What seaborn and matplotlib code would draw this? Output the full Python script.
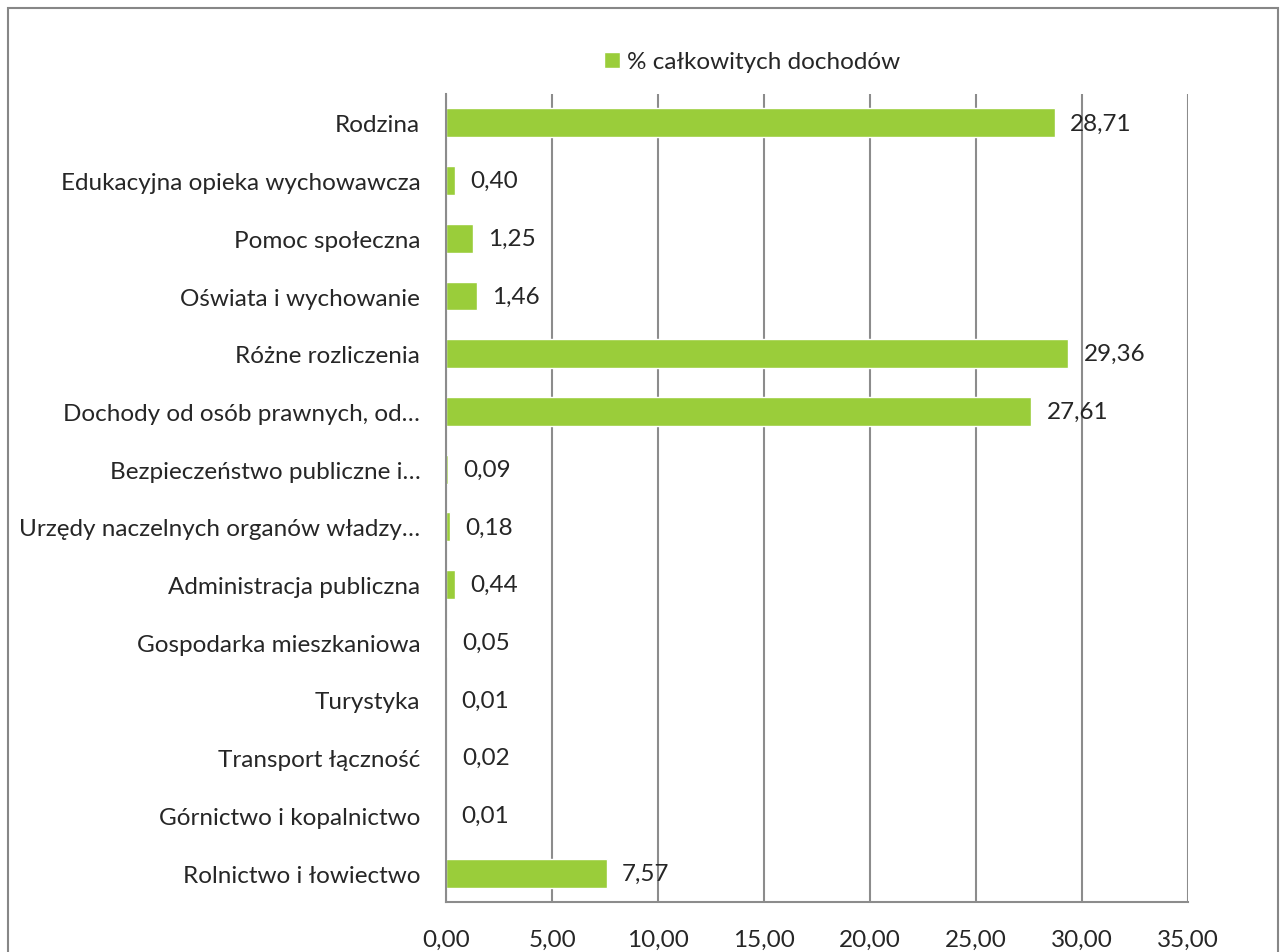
import matplotlib.pyplot as plt
import seaborn as sns
import pandas as pd
from matplotlib.patches import Rectangle
from matplotlib.ticker import FixedLocator

# Category names (top to bottom as drawn)
categories = [
    "Rodzina",
    "Edukacyjna opieka wychowawcza",
    "Pomoc społeczna",
    "Oświata i wychowanie",
    "Różne rozliczenia",
    "Dochody od osób prawnych, od…",
    "Bezpieczeństwo publiczne i…",
    "Urzędy naczelnych organów władzy…",
    "Administracja publiczna",
    "Gospodarka mieszkaniowa",
    "Turystyka",
    "Transport łączność",
    "Górnictwo i kopalnictwo",
    "Rolnictwo i łowiectwo",
]
# % of total income
values = [28.71, 0.40, 1.25, 1.46, 29.36, 27.61, 0.09, 0.18, 0.44,
          0.05, 0.01, 0.02, 0.01, 7.57]
x_ticks = [0, 5, 10, 15, 20, 25, 30, 35]
series_name = "% całkowitych dochodów"

df = pd.DataFrame({"kategoria": categories, "wartosc": values})

sns.set_style("white")
plt.rcParams["font.family"] = ["Lato", "DejaVu Sans"]

bar_color = "#9ACD3A"
grid_color = "#8C8C8C"
fs = 17.5

fig = plt.figure(figsize=(12.84, 9.53), dpi=100)
ax = fig.add_axes([0.3474, 0.0525, 0.9252 - 0.3474, 0.9003 - 0.0525])

sns.barplot(data=df, x="wartosc", y="kategoria", orient="h", color=bar_color,
            width=0.5, saturation=1, ax=ax, label=series_name)

ax.set_xlim(0, 35)
ax.set_ylim(len(categories) - 0.5, -0.5)
ax.set_xticks(x_ticks)
ax.set_xticklabels([f"{t:.2f}".replace(".", ",") for t in x_ticks], fontsize=fs)
ax.tick_params(axis="x", length=6, width=1.5, color=grid_color, pad=13)
ax.tick_params(axis="y", which="major", length=0, labelsize=fs, pad=18.5)
ax.yaxis.set_minor_locator(FixedLocator([i - 0.5 for i in range(len(categories) + 1)]))
ax.tick_params(axis="y", which="minor", length=6, width=1.5, color=grid_color)
ax.set_xlabel("")
ax.set_ylabel("")

ax.grid(axis="x", color=grid_color, linewidth=1.5)
ax.set_axisbelow(True)
for side in ["top", "right"]:
    ax.spines[side].set_visible(False)
for side in ["left", "bottom"]:
    ax.spines[side].set_color(grid_color)
    ax.spines[side].set_linewidth(1.5)

# value labels
for i, v in enumerate(values):
    ax.annotate(f"{v:.2f}".replace(".", ","), xy=(v, i), xytext=(11, 0),
                textcoords="offset points", va="center", ha="left", fontsize=fs)

ax.legend(loc="upper center", bbox_to_anchor=(0.413, 1.08), frameon=False,
          fontsize=fs, handlelength=0.65, handleheight=0.65, handletextpad=0.3)

# chart border
fig.patches.append(Rectangle((8 / 1284, -0.05), 1270 / 1284, 1.05 - 9 / 953,
                             transform=fig.transFigure, fill=False,
                             edgecolor="#878787", linewidth=1.5))

fig.savefig("out.png", dpi=100)
